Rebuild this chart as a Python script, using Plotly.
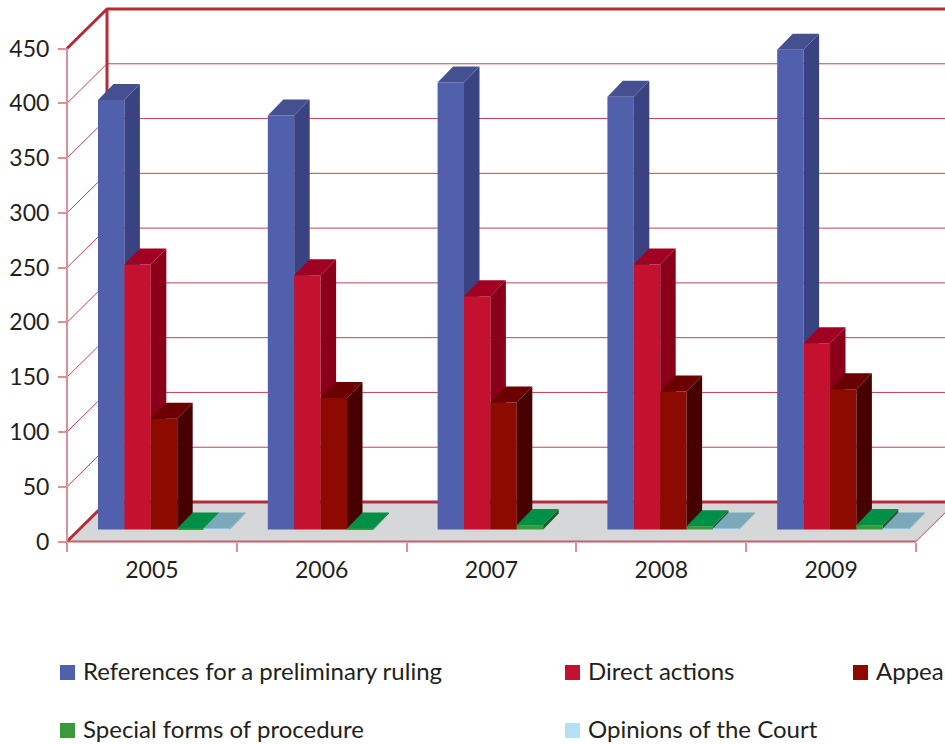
import plotly.graph_objects as go

years = ["2005", "2006", "2007", "2008", "2009"]
y_ticks = [0, 50, 100, 150, 200, 250, 300, 350, 400, 450]
series_names = ["References for a preliminary ruling", "Direct actions", "Appeals",
                "Special forms of procedure", "Opinions of the Court"]
references = [392, 378, 408, 395, 438]
direct = [242, 232, 213, 242, 170]
appeals = [101, 120, 116, 126, 128]
special = [1, 1, 4, 3, 4]
opinions = [1, 0, 0, 1, 1]
series_values = [references, direct, appeals, special, opinions]

front_colors = ["#5060AC", "#C4112F", "#8C0A00", "#3A9A3A", "#B5DFF5"]
side_colors = ["#3A4382", "#8A0019", "#470000", "#1C5A2C", "#7BA9BA"]
top_colors = ["#44508F", "#A00022", "#6A0000", "#008F47", "#7BA9BA"]

FONT = "Lato"
W, H = 945, 744
X0, X1, Y0, Y450 = 67, 916, 541.5, 48.5
UX = (X1 - X0) / 5          # px per category
UY = (Y0 - Y450) / 450      # px per value unit
WALL_DX, WALL_DY = 40 / UX, 39.5 / UY
BAR_DX, BAR_DY = 15.5 / UX, 16 / UY
BAR_START, BAR_W = 31 / UX, 26.4 / UX
BASE = 12 / UY

WALL = "#B52B38"
GRID = "#C8404E"
LIGHT = "#DE8F96"
FLOOR = "#D6D7D9"

fig = go.Figure()


def poly(xs, ys, color, axis="y", line_color=None, width=0):
    fig.add_trace(go.Scatter(x=xs, y=ys, mode="lines", fill="toself" if width == 0 else None,
                             fillcolor=color, line=dict(color=line_color or color, width=width),
                             yaxis=axis, hoverinfo="skip", showlegend=False))


# floor
poly([0, 5, 5 + WALL_DX, WALL_DX], [0, 0, WALL_DY, WALL_DY], FLOOR)

# gridlines on the side and back walls
gx, gy = [], []
for t in y_ticks[1:-1]:
    gx += [0, WALL_DX, 5 + WALL_DX, None]
    gy += [t, t + WALL_DY, t + WALL_DY, None]
fig.add_trace(go.Scatter(x=gx, y=gy, mode="lines", line=dict(color=GRID, width=1),
                         hoverinfo="skip", showlegend=False))

# heavy wall frame
poly([0, WALL_DX, 5 + WALL_DX], [0, WALL_DY, WALL_DY], None, line_color=WALL, width=3)
poly([0, WALL_DX, 5 + WALL_DX], [450, 450 + WALL_DY, 450 + WALL_DY], None, line_color=WALL, width=3)
poly([WALL_DX, WALL_DX], [WALL_DY, 450 + WALL_DY], None, line_color=WALL, width=3)
poly([0, 0], [0, 450], None, line_color=LIGHT, width=2)
poly([0, 5], [0, 0], None, line_color="#C4606A", width=2)
poly([5, 5 + WALL_DX], [0, WALL_DY], None, line_color=GRID, width=1)

# bars, one overlay per series so that each hides the side of the one before
for j, (name, vals) in enumerate(zip(series_names, series_values)):
    axis = f"y{j + 2}"
    xs, bars = [], []
    for i, v in enumerate(vals):
        if v <= 0:
            continue
        left = i + BAR_START + j * BAR_W
        right = left + BAR_W
        top = BASE + v
        xs.append(left + BAR_W / 2)
        bars.append(v)
        poly([right, right + BAR_DX, right + BAR_DX, right], [BASE, BASE + BAR_DY, top + BAR_DY, top],
             side_colors[j], axis)
        poly([left, right, right + BAR_DX, left + BAR_DX], [top, top, top + BAR_DY, top + BAR_DY],
             top_colors[j], axis)
    fig.add_trace(go.Bar(x=xs, y=bars, base=BASE, width=BAR_W, name=name, yaxis=axis,
                         marker=dict(color=front_colors[j], line=dict(width=0)), showlegend=False))

x_range = [-X0 / UX, (W - X0) / UX]
y_range = [-(H - Y0) / UY, Y0 / UY]
layout = dict(
    template="none",
    width=W, height=H, margin=dict(l=0, r=0, t=0, b=0, autoexpand=False), paper_bgcolor="white",
    plot_bgcolor="rgba(0,0,0,0)",
    barmode="overlay", showlegend=False, font=dict(family=FONT, color="#231F20", size=23),
    xaxis=dict(domain=[0, 1], range=x_range, anchor="free", position=(H - Y0) / H, showgrid=False,
               zeroline=False, showline=False, automargin=False,
               tickmode="array", tickvals=[i + 0.5 for i in range(5)], ticktext=years, ticks="",
               ticklabelstandoff=12,
               minor=dict(tickmode="array", tickvals=list(range(6)), ticks="outside", ticklen=9,
                          tickcolor=LIGHT, tickwidth=2, showgrid=False)),
    yaxis=dict(domain=[0, 1], range=y_range, anchor="free", position=X0 / W, showgrid=False, zeroline=False,
               showline=False, automargin=False, tickmode="array", tickvals=y_ticks, ticks="outside", ticklen=9,
               tickcolor=LIGHT, tickwidth=2, ticklabelstandoff=4),
)
for j in range(5):
    layout[f"yaxis{j + 2}"] = dict(overlaying="y", visible=False, range=y_range, automargin=False)
fig.update_layout(**layout)

# legend, laid out as in the page (the third column runs off the edge)
legend_pos = [(60, 672), (565, 672), (853, 672), (60, 730), (565, 730)]
for (name, color, (px, py)) in zip(series_names, front_colors, legend_pos):
    fig.add_shape(type="rect", xref="paper", yref="paper", x0=px / W, x1=(px + 15) / W,
                  y0=1 - (py + 8) / H, y1=1 - (py - 7) / H, fillcolor=color, line_width=0)
    fig.add_annotation(text=name, xref="paper", yref="paper", x=(px + 20.5) / W, y=1 - (py - 2) / H,
                       xanchor="left", yanchor="middle", showarrow=False, font=dict(size=24), align="left")

fig.write_html("out.html", config={"displayModeBar": False}, post_script="document.body.style.margin='0';")
